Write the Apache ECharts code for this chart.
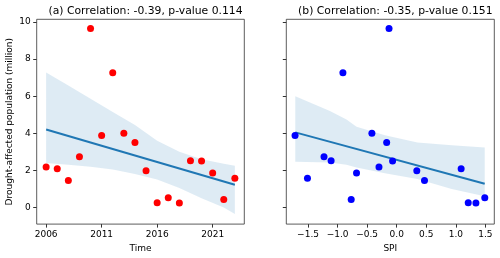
<!DOCTYPE html>
<html>
<head>
<meta charset="utf-8">
<script src="https://cdn.jsdelivr.net/npm/echarts@6/dist/echarts.min.js"></script>
<style>html,body{margin:0;padding:0;background:#fff}#c{width:500px;height:258px}</style>
</head>
<body>
<div id="c"></div>
<script>
// ---- data ----
const years = [2006,2007,2008,2009,2010,2011,2012,2013,2014,2015,2016,2017,2018,2019,2020,2021,2022,2023];
const affected = [2.18,2.09,1.45,2.73,9.66,3.88,7.27,4.00,3.50,1.98,0.25,0.52,0.24,2.52,2.50,1.86,0.43,1.57];
const spi = [-0.30,1.09,0.47,-1.23,-0.13,-1.72,-0.91,-0.42,-0.17,0.34,1.21,1.49,1.34,-1.11,-0.07,-0.68,-0.77,-1.51];

const timeFitX = [2006, 2023];
const timeFitY = [4.20, 1.22];
const timeBandX = [2006,2008,2010,2012,2014,2016,2018,2020,2022,2023];
const timeBandUpper = [7.28,6.58,5.87,5.15,4.45,3.60,3.00,2.60,2.35,2.25];
const timeBandLower = [2.40,2.30,2.20,2.05,1.80,1.50,1.05,0.50,0.00,-0.35];

const spiFitX = [-1.716, 1.489];
const spiFitY = [4.05, 1.28];
const spiBandX = [-1.716,-1.13,-0.85,-0.68,-0.2,0.35,0.93,1.489];
const spiBandUpper = [6.00,5.20,4.75,4.35,3.90,3.50,3.35,3.23];
const spiBandLower = [2.47,2.43,2.30,2.15,1.85,1.54,1.00,0.60];

const timeTicks = [2006,2011,2016,2021];
const spiTicks = [-1.5,-1.0,-0.5,0.0,0.5,1.0,1.5];
const yTicks = [0,2,4,6,8,10];

const titleA = '(a) Correlation: -0.39, p-value 0.114';
const titleB = '(b) Correlation: -0.35, p-value 0.151';
const yName = 'Drought-affected population (million)';

// ---- layout ----
const FONT = 'DejaVu Sans';
const G = [
  {left: 36.7, right: 500-244.3, top: 19.3, bottom: 258-225},
  {left: 286.3, right: 500-494.3, top: 19.3, bottom: 258-225}
];
const bandColor = 'rgba(31,119,180,0.15)';
const lineColor = '#1f77b4';

function bandSeries(idx, xs, lo, hi) {
  const data = xs.map((x,i)=>[x, lo[i], hi[i]]);
  return {
    type: 'custom', xAxisIndex: idx, yAxisIndex: idx, z: 1,
    encode: {x: 0, y: [1,2]},
    data: data,
    renderItem: function(params, api) {
      if (params.dataIndex !== 0) return null;
      const pts = [];
      for (let i=0;i<data.length;i++) pts.push(api.coord([data[i][0], data[i][2]]));
      for (let i=data.length-1;i>=0;i--) pts.push(api.coord([data[i][0], data[i][1]]));
      return {type:'polygon', shape:{points: pts}, style:{fill: bandColor, stroke: 'none'}, silent:true};
    }
  };
}

const axisText = {color:'#000', fontFamily: FONT, fontSize: 9};

function yAxis(idx, showLabels) {
  return {
    type:'value', gridIndex: idx, min: -0.9, max: 10.15, position: 'left',
    name: showLabels ? yName : '', nameLocation:'middle', nameGap: 23,
    nameTextStyle: {color:'#000', fontFamily: FONT, fontSize: 9},
    axisLine:{show:false, onZero:false}, splitLine:{show:false},
    axisTick:{show:true, length:3.5, customValues: yTicks, lineStyle:{color:'#333'}},
    axisLabel: Object.assign({show: showLabels, margin: 6, customValues: yTicks}, axisText)
  };
}

function xAxis(idx, name, min, max, ticks, fmt) {
  return {
    type:'value', gridIndex: idx, min: min, max: max, position: 'bottom',
    name: name, nameLocation:'middle', nameGap: 17,
    nameTextStyle:{color:'#000', fontFamily: FONT, fontSize: 9},
    axisLine:{show:false, onZero:false}, splitLine:{show:false},
    axisTick:{show:true, length:3.5, customValues: ticks, lineStyle:{color:'#333'}},
    axisLabel: Object.assign({margin: 6, customValues: ticks, formatter: fmt}, axisText)
  };
}

const option = {
  animation: false,
  backgroundColor: '#fff',
  title: [
    {text: titleA, left: (36.7+244.3)/2, top: 1, textAlign:'center',
     textStyle:{fontFamily: FONT, fontSize: 10.8, fontWeight:'normal', color:'#000'}},
    {text: titleB, left: (286.3+494.3)/2, top: 1, textAlign:'center',
     textStyle:{fontFamily: FONT, fontSize: 10.8, fontWeight:'normal', color:'#000'}}
  ],
  grid: G.map(g => Object.assign({show:true, borderColor:'#333', borderWidth:0.8, backgroundColor:'transparent', containLabel:false}, g)),
  xAxis: [
    xAxis(0, 'Time', 2005.15, 2023.85, timeTicks, v => String(v)),
    xAxis(1, 'SPI', -1.868, 1.651, spiTicks, v => (v < 0 ? '\u2212' : '') + Math.abs(v).toFixed(1))
  ],
  yAxis: [yAxis(0, true), yAxis(1, false)],
  series: [
    bandSeries(0, timeBandX, timeBandLower, timeBandUpper),
    bandSeries(1, spiBandX, spiBandLower, spiBandUpper),
    {type:'line', xAxisIndex:0, yAxisIndex:0, z:2, symbol:'none',
     data: timeFitX.map((x,i)=>[x, timeFitY[i]]), lineStyle:{color: lineColor, width: 2}},
    {type:'line', xAxisIndex:1, yAxisIndex:1, z:2, symbol:'none',
     data: spiFitX.map((x,i)=>[x, spiFitY[i]]), lineStyle:{color: lineColor, width: 2}},
    {type:'scatter', xAxisIndex:0, yAxisIndex:0, z:3, symbolSize: 7,
     data: years.map((x,i)=>[x, affected[i]]), itemStyle:{color:'#ff0000', opacity:1}},
    {type:'scatter', xAxisIndex:1, yAxisIndex:1, z:3, symbolSize: 7,
     data: spi.map((x,i)=>[x, affected[i]]), itemStyle:{color:'#0000ff', opacity:1}}
  ]
};
const chart = echarts.init(document.getElementById('c'), null, {renderer:'canvas'});
chart.setOption(option);
</script>
</body>
</html>
